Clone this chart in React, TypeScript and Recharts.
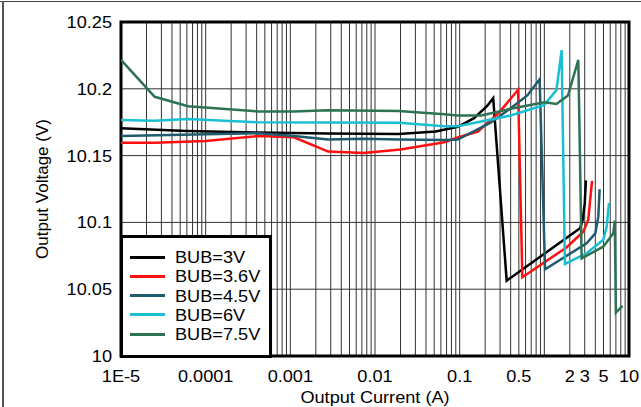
import React from 'react';
import { LineChart, Line, XAxis, YAxis, CartesianGrid, ReferenceArea } from 'recharts';

// Output current (A), output voltage (V)
const bub3V: [number, number][] = [
  [1e-5, 10.1704], [6e-5, 10.1684], [4.2e-4, 10.1672], [2.8e-3, 10.1665], [0.019, 10.1662],
  [0.052, 10.168], [0.095, 10.1716], [0.148, 10.178], [0.21, 10.187], [0.249, 10.193],
  [0.359, 10.0564], [2.64, 10.0956], [2.84, 10.1018], [3.0, 10.1143], [3.1, 10.1315],
];
const bub36V: [number, number][] = [
  [1e-5, 10.1597], [2.5e-5, 10.1597], [1e-4, 10.161], [4.2e-4, 10.1647], [1.1e-3, 10.1637],
  [2.8e-3, 10.153], [7.3e-3, 10.152], [0.02, 10.1545], [0.066, 10.16], [0.095, 10.1636],
  [0.164, 10.168], [0.29, 10.182], [0.49, 10.1993], [0.55, 10.059], [1.84, 10.0814],
  [2.88, 10.093], [3.3, 10.1018], [3.66, 10.131],
];
const bub45V: [number, number][] = [
  [1e-5, 10.1647], [4.2e-4, 10.1667], [1.1e-3, 10.1647], [2.8e-3, 10.162], [7.3e-3, 10.1627],
  [0.019, 10.162], [0.066, 10.1617], [0.095, 10.162], [0.232, 10.1746], [0.4, 10.1854],
  [0.63, 10.195], [0.88, 10.2071], [1.02, 10.0649], [3.16, 10.0844], [4.0, 10.0918],
  [4.34, 10.1043], [4.5, 10.1248],
];
const bub6V: [number, number][] = [
  [1e-5, 10.1767], [2.5e-5, 10.176], [6.2e-5, 10.1774], [4.2e-4, 10.1749], [0.019, 10.1745],
  [0.066, 10.172], [0.095, 10.172], [0.4, 10.18], [1.0, 10.188], [1.39, 10.199], [1.6, 10.229],
  [1.75, 10.0689], [3.16, 10.0769], [4.97, 10.087], [5.45, 10.0968], [5.8, 10.1147],
];
const bub75V: [number, number][] = [
  [1e-5, 10.2216], [2.5e-5, 10.194], [6.2e-5, 10.187], [4.2e-4, 10.183], [1.1e-3, 10.183],
  [2.8e-3, 10.184], [0.019, 10.1834], [0.066, 10.181], [0.095, 10.18], [0.18, 10.18],
  [0.4, 10.185], [1.0, 10.19], [1.39, 10.1886], [1.9, 10.195], [2.52, 10.2216], [2.76, 10.0731],
  [4.97, 10.0818], [6.52, 10.0918], [6.8, 10.1013], [7.0, 10.0325], [8.4, 10.0375],
];

const seriesNames = ['BUB=3V', 'BUB=3.6V', 'BUB=4.5V', 'BUB=6V', 'BUB=7.5V'];
const seriesColors = ['#000000', '#ff1010', '#1f5a6f', '#18c0d2', '#2d7353'];
const seriesData = [bub3V, bub36V, bub45V, bub6V, bub75V];

const yTicks = [10, 10.05, 10.1, 10.15, 10.2, 10.25];
const xLabelValues = [1e-5, 1e-4, 1e-3, 0.01, 0.1, 0.5, 2, 3, 5, 10];
const xLabelTexts = ['1E-5', '0.0001', '0.001', '0.01', '0.1', '0.5', '2', '3', '5', '10'];
const gridMultipliers = [1, 2, 3, 4, 5, 6, 7, 8, 9];
const gridDecades = [1e-5, 1e-4, 1e-3, 1e-2, 1e-1, 1];

const xGridTicks: number[] = [];
gridDecades.forEach((d) => gridMultipliers.forEach((m) => xGridTicks.push(+(m * d).toPrecision(6))));
xGridTicks.push(10);

const FONT = "'Liberation Sans', Arial, Helvetica, sans-serif";

const xLabelFor = (v: number) => {
  const idx = xLabelValues.findIndex((lv) => Math.abs(lv - v) / lv < 1e-6);
  return idx >= 0 ? xLabelTexts[idx] : '';
};

const XTick = (props: any) => {
  const { x, y, payload } = props;
  const label = xLabelFor(payload.value);
  if (!label) return <g />;
  return (
    <text transform={`translate(${x},${y + 26}) scale(1.1,1)`} textAnchor="middle" fontFamily={FONT} fontSize={16.5} fill="#000">
      {label}
    </text>
  );
};

const YTick = (props: any) => {
  const { x, y, payload } = props;
  const label = String(Math.round(payload.value * 100) / 100);
  return (
    <text transform={`translate(${x - 9},${y + 6}) scale(1.1,1)`} textAnchor="end" fontFamily={FONT} fontSize={16.5} fill="#000">
      {label}
    </text>
  );
};

export default function App() {
  const W = 641;
  const H = 407;
  return (
    <div style={{ position: 'absolute', left: 0, top: 0, width: W, height: H, background: '#fff', overflow: 'hidden' }}>
      <div style={{ position: 'absolute', left: 0, top: 1, width: W, height: 1, background: '#444' }} />
      <div style={{ position: 'absolute', left: 2, top: 1, width: 1.5, height: H, background: '#555' }} />
      <LineChart width={W} height={H} margin={{ top: 22, right: 12, bottom: 0, left: 0 }}>
        <CartesianGrid stroke="#333" strokeWidth={1} verticalPoints={undefined} />
        <XAxis
          dataKey="i"
          type="number"
          scale="log"
          domain={[1e-5, 10]}
          ticks={xGridTicks}
          interval={0}
          allowDataOverflow
          height={51}
          tickLine={false}
          axisLine={false}
          tickSize={0}
          tickMargin={0}
          tick={<XTick />}
          label={{
            content: (p: any) => {
              const vb = p.viewBox || { x: 121, y: 356, width: 508 };
              return (
                <text transform={`translate(${vb.x + vb.width / 2},${vb.y + 47}) scale(1.1,1)`} textAnchor="middle" fontFamily={FONT} fontSize={16.5} fill="#000">
                  Output Current (A)
                </text>
              );
            },
          }}
        />
        <YAxis
          dataKey="v"
          type="number"
          domain={[10, 10.25]}
          ticks={yTicks}
          interval={0}
          allowDataOverflow
          width={121}
          tickLine={false}
          axisLine={false}
          tickSize={0}
          tickMargin={0}
          tick={<YTick />}
          label={{
            content: (p: any) => {
              const vb = p.viewBox || { x: 0, y: 22, height: 334 };
              const cx = vb.x + 48;
              const cy = vb.y + vb.height / 2;
              return (
                <text transform={`translate(${cx},${cy}) rotate(-90)`} textAnchor="middle" fontFamily={FONT} fontSize={17} fill="#000">
                  Output Voltage (V)
                </text>
              );
            },
          }}
        />
        <ReferenceArea x1={1e-5} x2={10} y1={10} y2={10.25} fill="none" fillOpacity={0} stroke="#000" strokeWidth={3} ifOverflow="visible" />
        {seriesData.map((d, k) => (
          <Line
            key={seriesNames[k]}
            name={seriesNames[k]}
            data={d.map(([i, v]) => ({ i, v }))}
            dataKey="v"
            type="linear"
            stroke={seriesColors[k]}
            strokeWidth={2.5}
            dot={false}
            activeDot={false}
            isAnimationActive={false}
          />
        ))}
      </LineChart>
      <div
        style={{
          position: 'absolute',
          left: 120,
          top: 235,
          width: 152,
          height: 123,
          boxSizing: 'border-box',
          border: '3px solid #000',
          background: '#fff',
        }}
      >
        {seriesNames.map((n, k) => (
          <div key={n} style={{ position: 'absolute', left: 0, top: 9 + k * 19.3, height: 20, width: 146 }}>
            <div style={{ position: 'absolute', left: 7, top: 8.5, width: 35, height: 3, background: seriesColors[k] }} />
            <div
              style={{
                position: 'absolute',
                left: 52,
                top: 0,
                height: 20,
                lineHeight: '20px',
                fontFamily: FONT,
                fontSize: 16.5,
                color: '#000',
                whiteSpace: 'nowrap',
                transform: 'scaleX(1.1)',
                transformOrigin: 'left center',
              }}
            >
              {n}
            </div>
          </div>
        ))}
      </div>
    </div>
  );
}
